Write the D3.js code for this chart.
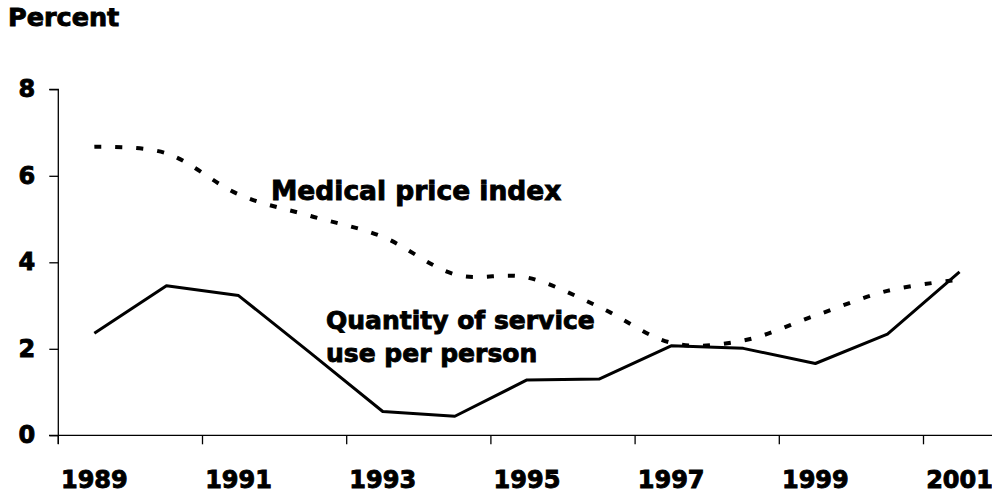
<!DOCTYPE html>
<html><head><meta charset="utf-8">
<script src="https://cdn.jsdelivr.net/npm/d3@7"></script>
<style>
html,body{margin:0;padding:0;background:#fff;}
svg{display:block;font-family:"DejaVu Sans",sans-serif;font-weight:bold;}
text{stroke:#000;stroke-width:0.9px;paint-order:stroke;}
</style></head>
<body>
<svg id="c" width="992" height="496"></svg>
<script>
const years = [1989,1990,1991,1992,1993,1994,1995,1996,1997,1998,1999,2000,2001];
const quantity = [2.36,3.46,3.23,1.9,0.55,0.44,1.28,1.30,2.07,2.01,1.66,2.34,3.78];
const medicalPrice = [6.67,6.52,5.57,5.07,4.59,3.72,3.65,2.97,2.14,2.19,2.77,3.34,3.6];
const yTicks = [0,2,4,6,8];
const xLabelYears = [1989,1991,1993,1995,1997,1999,2001];
const xTickYears = [1989,1991,1993,1995,1997,1999,2001];

const svg = d3.select("#c");
const x = d3.scaleBand().domain(years).range([58.3, 995.6]).padding(0);
const y = d3.scaleLinear().domain([0,8]).range([435.3, 89.3]);
const cx = d => x(d) + x.bandwidth()/2;

// y axis
const yAx = svg.append("g").attr("transform","translate(58.3,0)")
  .call(d3.axisLeft(y).tickValues(yTicks).tickSize(9).tickPadding(14).tickFormat(d3.format("d")));
yAx.select(".domain").attr("stroke","#000").attr("stroke-width",1.3).attr("d","M-9,89.3H0V444");
yAx.selectAll(".tick line").attr("stroke","#000").attr("stroke-width",1.3);
yAx.selectAll(".tick text").attr("font-size",24).attr("font-family","DejaVu Sans").attr("font-weight","bold").attr("fill","#000");

// x axis line
const xAx = svg.append("g").attr("transform","translate(0,435.3)");
xAx.append("line").attr("x1",49).attr("x2",992).attr("y1",0).attr("y2",0).attr("stroke","#000").attr("stroke-width",1.3);
xAx.selectAll("line.tk").data(xTickYears).enter().append("line").attr("class","tk")
  .attr("x1",d=>x(d)).attr("x2",d=>x(d)).attr("y1",0).attr("y2",9).attr("stroke","#000").attr("stroke-width",1.3);
const xLab = svg.append("g").attr("transform","translate(0,435.3)")
  .call(d3.axisBottom(x).tickValues(xLabelYears).tickSize(0).tickPadding(36).tickFormat(d3.format("d")));
xLab.select(".domain").remove();
xLab.selectAll(".tick text").attr("font-size",24).attr("font-family","DejaVu Sans").attr("font-weight","bold").attr("fill","#000");

// lines
const lineQ = d3.line().x((d,i)=>cx(years[i])).y(d=>y(d));
const lineM = d3.line().x((d,i)=>cx(years[i])).y(d=>y(d)).curve(d3.curveCatmullRom.alpha(0));
svg.append("path").datum(medicalPrice).attr("d",lineM).attr("fill","none").attr("stroke","#000")
  .attr("stroke-width",4).attr("stroke-dasharray","7,14");
svg.append("path").datum(quantity).attr("d",lineQ).attr("fill","none").attr("stroke","#000")
  .attr("stroke-width",3).attr("stroke-linejoin","round");

// texts
svg.append("text").attr("x",8).attr("y",26).attr("font-size",25.5).text("Percent");
svg.append("text").attr("x",271).attr("y",200).attr("font-size",26.5).text("Medical price index");
const q = svg.append("text").attr("x",326).attr("y",329).attr("font-size",25);
q.append("tspan").attr("x",326).text("Quantity of service");
q.append("tspan").attr("x",326).attr("y",361.7).text("use per person");
</script>
</body></html>
